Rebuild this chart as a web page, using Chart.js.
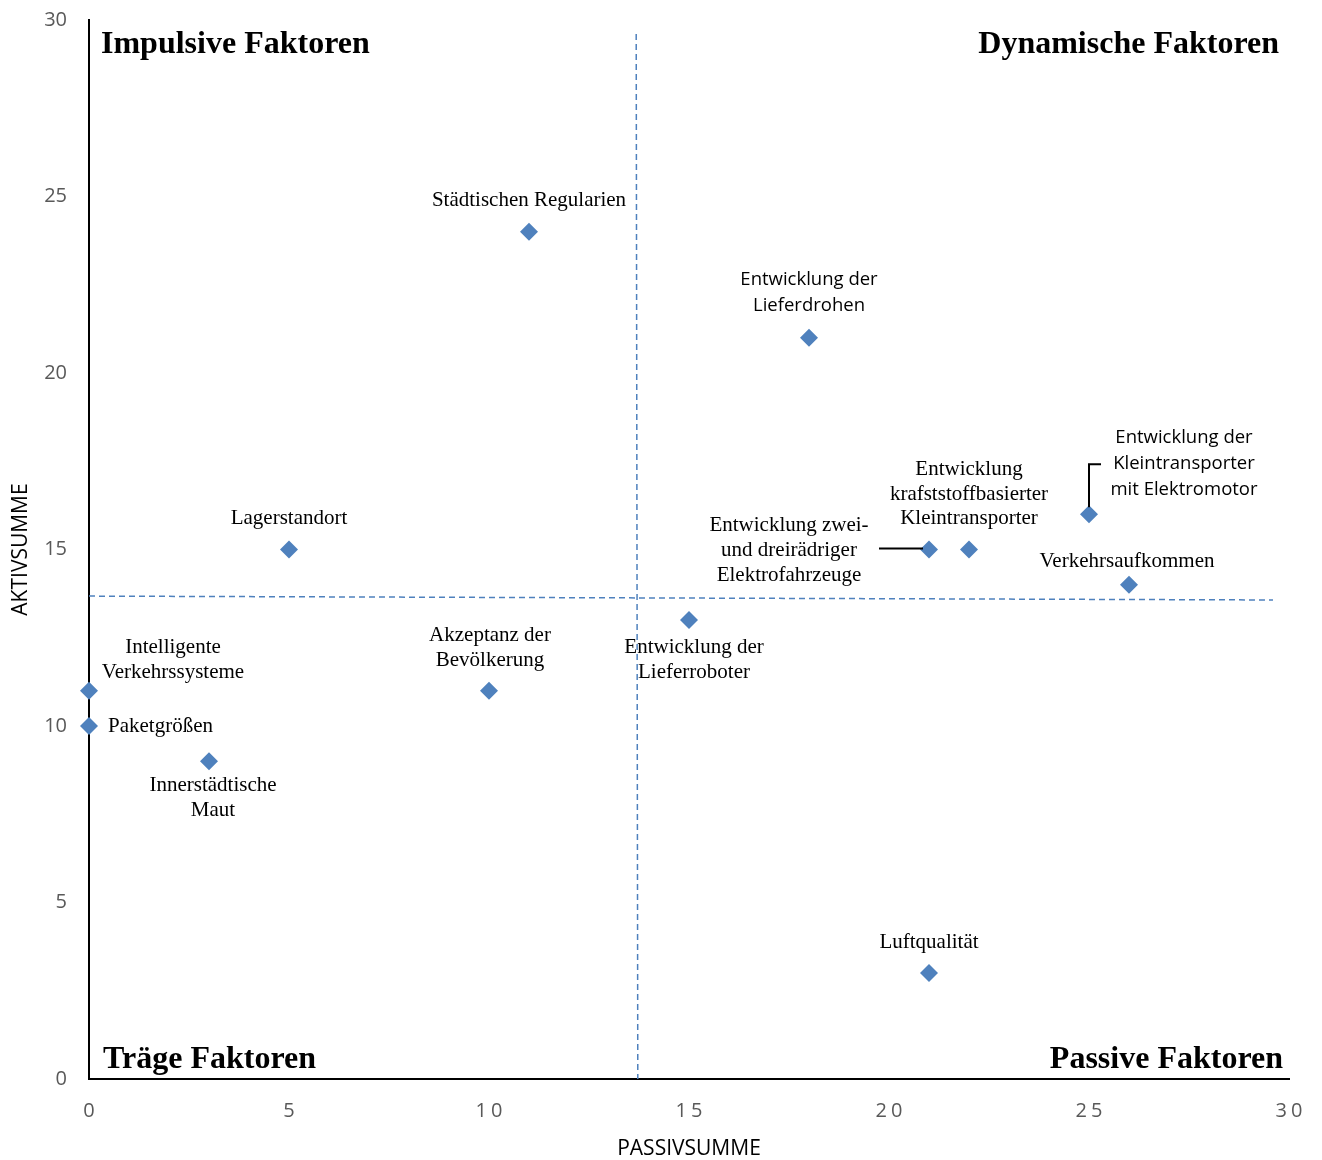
<!DOCTYPE html>
<html><head><meta charset="utf-8">
<script src="https://cdn.jsdelivr.net/npm/chart.js@4.4.0/dist/chart.umd.min.js"></script>
<style>html,body{margin:0;padding:0;background:#fff}</style>
</head><body>
<canvas id="c" width="1322" height="1160" style="display:block;width:1322px;height:1160px"></canvas>
<script>
// ---- data ----
const factorNames = [
  ['Städtischen Regularien'],
  ['Entwicklung der', 'Lieferdrohen'],
  ['Lagerstandort'],
  ['Entwicklung', 'krafststoffbasierter', 'Kleintransporter'],
  ['Entwicklung zwei-', 'und dreirädriger', 'Elektrofahrzeuge'],
  ['Entwicklung der', 'Kleintransporter', 'mit Elektromotor'],
  ['Verkehrsaufkommen'],
  ['Entwicklung der', 'Lieferroboter'],
  ['Akzeptanz der', 'Bevölkerung'],
  ['Intelligente', 'Verkehrssysteme'],
  ['Paketgrößen'],
  ['Innerstädtische', 'Maut'],
  ['Luftqualität']
];
const passivSumme = [11, 18, 5, 22, 21, 25, 26, 15, 10, 0, 0, 3, 21];
const aktivSumme  = [24, 21, 15, 15, 15, 16, 14, 13, 11, 11, 10, 9, 3];
const xTickValues = [0, 5, 10, 15, 20, 25, 30];
const yTickValues = [0, 5, 10, 15, 20, 25, 30];
const quadrantNames = ['Impulsive Faktoren', 'Dynamische Faktoren', 'Träge Faktoren', 'Passive Faktoren'];
const xAxisTitle = 'PASSIVSUMME';
const yAxisTitle = 'AKTIVSUMME';
const dividerVerticalX = [13.68, 13.72];
const dividerVerticalY = [29.6, 0];
const dividerHorizontalX = [0, 29.6];
const dividerHorizontalY = [13.68, 13.57];

// ---- label layout (pixel offsets from each point, style only) ----
const SERIF = '21px "Liberation Serif", "Times New Roman", serif';
const SANS = '18.5px "Open Sans", sans-serif';
const labelLayout = [
  {dx: 0, dy: -31, lh: 25, font: SERIF},
  {dx: 0, dy: -58, lh: 26, font: SANS},
  {dx: 0, dy: -31, lh: 25, font: SERIF},
  {dx: 0, dy: -80, lh: 24.5, font: SERIF},
  {dx: -140, dy: -24, lh: 25, font: SERIF, leader: [[-50, -1], [-6, -1]]},
  {dx: 95, dy: -76, lh: 26, font: SANS, leader: [[0, -7], [0, -50], [12, -50]]},
  {dx: -2, dy: -23, lh: 25, font: SERIF},
  {dx: 5, dy: 27, lh: 25, font: SERIF},
  {dx: 1, dy: -55, lh: 25, font: SERIF},
  {dx: 84, dy: -43, lh: 25, font: SERIF},
  {dx: 19, dy: 0, lh: 25, font: SERIF, align: 'left'},
  {dx: 4, dy: 24, lh: 25, font: SERIF},
  {dx: 0, dy: -31, lh: 25, font: SERIF}
];

const BLUE = '#4F81BD';
const points = passivSumme.map((x, i) => ({x: x, y: aktivSumme[i]}));
const vLine = dividerVerticalX.map((x, i) => ({x: x, y: dividerVerticalY[i]}));
const hLine = dividerHorizontalX.map((x, i) => ({x: x, y: dividerHorizontalY[i]}));

const labelPlugin = {
  id: 'labels',
  beforeDraw(chart) {
    const s = chart.scales.x;
    if (!s._spaced) {
      const orig = s.drawLabels.bind(s);
      s.drawLabels = function (area) {
        const ctx = chart.ctx;
        ctx.save();
        ctx.letterSpacing = '4px';
        ctx.translate(2, 0);
        orig(area);
        ctx.restore();
      };
      s._spaced = true;
    }
  },
  afterDatasetsDraw(chart) {
    const ctx = chart.ctx, xs = chart.scales.x, ys = chart.scales.y, ca = chart.chartArea;
    ctx.save();
    factorNames.forEach((lines, i) => {
      const L = labelLayout[i];
      const px = xs.getPixelForValue(passivSumme[i]);
      const py = ys.getPixelForValue(aktivSumme[i]);
      ctx.font = L.font;
      ctx.fillStyle = '#000';
      ctx.textAlign = L.align || 'center';
      ctx.textBaseline = 'middle';
      lines.forEach((t, k) => ctx.fillText(t, px + L.dx, py + L.dy + k * L.lh));
      if (L.leader) {
        ctx.strokeStyle = '#000';
        ctx.lineWidth = 2;
        ctx.beginPath();
        L.leader.forEach((p, k) => {
          if (k === 0) ctx.moveTo(px + p[0], py + p[1]); else ctx.lineTo(px + p[0], py + p[1]);
        });
        ctx.stroke();
      }
    });
    ctx.font = 'bold 32px "Liberation Serif", "Times New Roman", serif';
    ctx.fillStyle = '#000';
    ctx.textBaseline = 'middle';
    ctx.textAlign = 'left';
    ctx.fillText(quadrantNames[0], ca.left + 12, ca.top + 25);
    ctx.fillText(quadrantNames[2], ca.left + 14, ca.bottom - 19);
    ctx.textAlign = 'right';
    ctx.fillText(quadrantNames[1], ca.right - 10, ca.top + 25);
    ctx.fillText(quadrantNames[3], ca.right - 6, ca.bottom - 19);
    ctx.restore();
  }
};

new Chart(document.getElementById('c'), {
  type: 'scatter',
  data: {
    datasets: [
      {data: vLine, showLine: true, borderColor: BLUE, borderWidth: 1.5, borderDash: [6, 4], pointRadius: 0, order: 2},
      {data: hLine, showLine: true, borderColor: BLUE, borderWidth: 1.5, borderDash: [6, 4], pointRadius: 0, order: 2},
      {data: points, pointStyle: 'rectRot', pointRadius: 9, pointHoverRadius: 9, clip: false,
       backgroundColor: BLUE, borderColor: BLUE, borderWidth: 0, order: 1}
    ]
  },
  options: {
    responsive: false,
    animation: false,
    devicePixelRatio: 1,
    layout: {padding: {left: 0, top: 20, right: 33, bottom: 0}},
    plugins: {legend: {display: false}, tooltip: {enabled: false}},
    scales: {
      x: {
        type: 'linear', min: 0, max: 30,
        afterBuildTicks: s => { s.ticks = xTickValues.map(v => ({value: v})); },
        afterFit: s => { s.height = 81; s.paddingLeft = 0; s.paddingRight = 0; },
        grid: {display: false, drawTicks: false},
        border: {display: true, color: '#000', width: 2},
        ticks: {padding: 20, color: '#595959', font: {family: '"Open Sans", sans-serif', size: 20}},
        title: {display: true, text: xAxisTitle, color: '#000', padding: {top: 0, bottom: -2},
                font: {family: '"Open Sans", sans-serif', size: 21}}
      },
      y: {
        type: 'linear', min: 0, max: 30,
        afterBuildTicks: s => { s.ticks = yTickValues.map(v => ({value: v})); },
        afterFit: s => { s.width = 89; s.paddingTop = 0; s.paddingBottom = 0; },
        grid: {display: false, drawTicks: false},
        border: {display: true, color: '#000', width: 2},
        ticks: {padding: 22, color: '#595959', font: {family: '"Open Sans", sans-serif', size: 20}},
        title: {display: true, text: yAxisTitle, color: '#000', padding: {top: 8, bottom: 0},
                font: {family: '"Open Sans", sans-serif', size: 21}}
      }
    }
  },
  plugins: [labelPlugin]
});
</script>
</body></html>
